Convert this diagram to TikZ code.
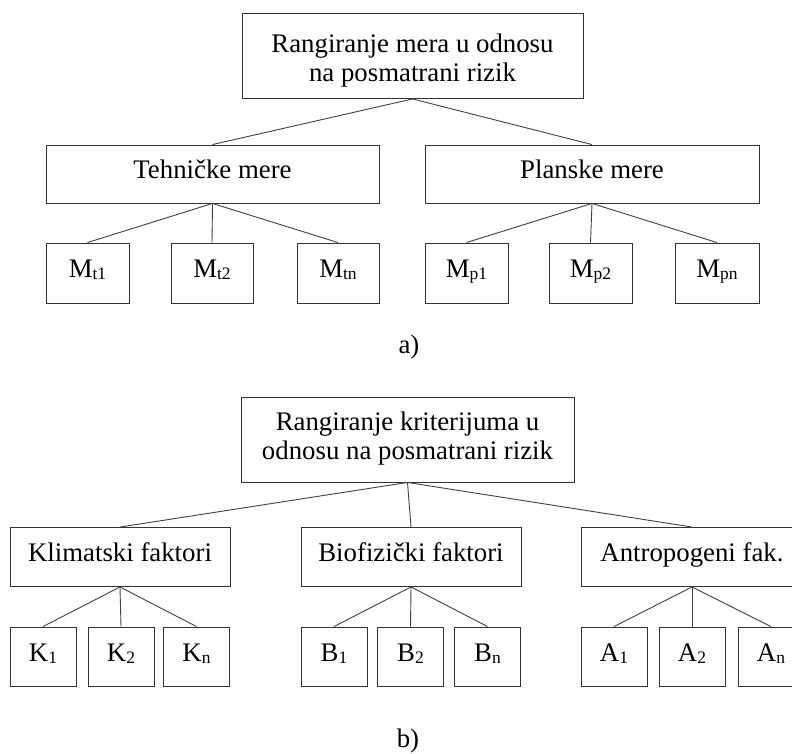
\documentclass[tikz,border=0pt]{standalone}
\usepackage{fontspec}
\setmainfont{Liberation Serif}
\begin{document}
\begin{tikzpicture}[x=1pt,y=-1pt,
  every node/.style={font=\fontsize{26.8}{29}\selectfont, inner sep=0pt},
  box/.style={draw=black!80, line width=0.9pt, rectangle, align=center,
    minimum width=#1},
  box/.default=66pt,
  oneline/.style={text height=14pt, text depth=5pt},
  root/.style={box=#1, minimum height=85pt},
  group/.style={box=#1, oneline, minimum height=58pt},
  leaf/.style={box=#1, oneline, minimum height=60pt},
  link/.style={draw=black!75, line width=0.9pt}]
\newcommand{\sub}[1]{\raisebox{-2pt}{\fontsize{17.5}{17.5}\selectfont #1}}
% two-line title with a fixed height and depth around its first baseline
\newcommand{\twolines}[4]{\raisebox{0pt}[#3][#4]{\begin{tabular}[t]{@{}c@{}}#1\\#2\end{tabular}}}
\useasboundingbox (0,0) rectangle (792,754);
\clip (0,0) rectangle (792,754);

% ---- a) ranking of measures ----
\node[root=341pt] (ra) at (412.5,56) {\twolines{Rangiranje mera u odnosu}{na posmatrani rizik}{20pt}{26pt}};
\node[group=333pt] (teh) at (212.5,174) {Tehničke mere};
\node[group=334pt] (plan) at (592,174) {Planske mere};
\node[leaf=83pt] (mt1) at (87.5,273) {M\sub{t1}};
\node[leaf=82pt] (mt2) at (212,273) {M\sub{t2}};
\node[leaf=82pt] (mtn) at (338,273) {M\sub{tn}};
\node[leaf=83pt] (mp1) at (466.5,273) {M\sub{p1}};
\node[leaf=83pt] (mp2) at (590.5,273) {M\sub{p2}};
\node[leaf=84pt] (mpn) at (717,273) {M\sub{pn}};
\node (la) at (409,347) {a)};

\foreach \c in {teh,plan} \path[link] (ra.south) -- (\c.north);
\foreach \c in {mt1,mt2,mtn} \path[link] (teh.south) -- (\c.north);
\foreach \c in {mp1,mp2,mpn} \path[link] (plan.south) -- (\c.north);

% ---- b) ranking of criteria ----
\node[root=333pt] (rb) at (407.5,439.5) {\twolines{Rangiranje kriterijuma u}{odnosu na posmatrani rizik}{14pt}{33pt}};
\node[group=220pt, minimum height=59pt] (klim) at (120,557) {Klimatski faktori};
\node[group=220pt, minimum height=59pt] (bio) at (411,557) {Biofizički faktori};
\node[group=222pt, minimum height=59pt] (antr) at (692,557) {Antropogeni fak.};
\node[leaf, minimum height=59pt] (k1) at (43,656.5) {K\sub{1}};
\node[leaf, minimum height=59pt] (k2) at (121,656.5) {K\sub{2}};
\node[leaf, minimum height=59pt] (kn) at (196.5,656.5) {K\sub{n}};
\node[leaf, minimum height=59pt] (b1) at (334,656.5) {B\sub{1}};
\node[leaf, minimum height=59pt] (b2) at (410.5,656.5) {B\sub{2}};
\node[leaf, minimum height=59pt] (bn) at (487.5,656.5) {B\sub{n}};
\node[leaf, minimum height=59pt] (a1) at (614,656.5) {A\sub{1}};
\node[leaf, minimum height=59pt] (a2) at (692,656.5) {A\sub{2}};
\node[leaf, minimum height=59pt] (an) at (771,656.5) {A\sub{n}};
\node (lb) at (408,741) {b)};

\foreach \c in {klim,bio,antr} \path[link] (rb.south) -- (\c.north);
\foreach \c in {k1,k2,kn} \path[link] (klim.south) -- (\c.north);
\foreach \c in {b1,b2,bn} \path[link] (bio.south) -- (\c.north);
\foreach \c in {a1,a2,an} \path[link] (antr.south) -- (\c.north);
\end{tikzpicture}
\end{document}
